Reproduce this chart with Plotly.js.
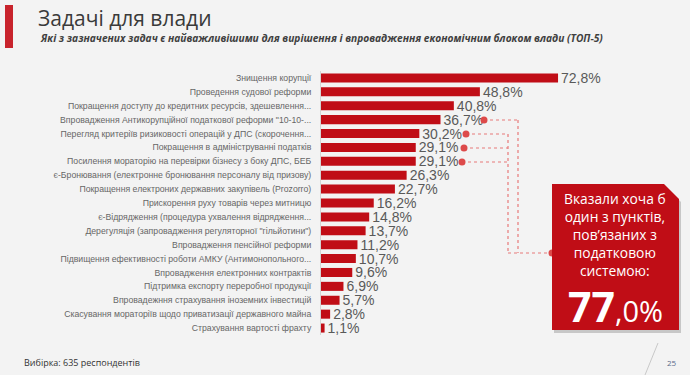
<!DOCTYPE html>
<html><head><meta charset="utf-8">
<script src="https://cdn.plot.ly/plotly-3.0.1.min.js"></script>
<style>html,body{margin:0;padding:0;background:#f3f3f3;}#chart{width:690px;height:375px;}</style>
</head><body><div id="chart"></div>
<script>
const categories = [
  "Знищення корупції",
  "Проведення судової реформи",
  "Покращення доступу до кредитних ресурсів, здешевлення...",
  "Впровадження Антикорупційної податкової реформи \"10-10-...",
  "Перегляд критеріїв ризиковості операцій у ДПС (скорочення...",
  "Покращення в адмініструванні податків",
  "Посилення мораторію на перевірки бізнесу з боку ДПС, БЕБ",
  "є-Бронювання (електронне бронювання персоналу від призову)",
  "Покращення електроних державних закупівель (Prozorro)",
  "Прискорення руху товарів через митницю",
  "є-Відрядження (процедура ухвалення відрядження...",
  "Дерегуляція (запровадження регуляторної \"гільйотини\")",
  "Впровадження пенсійної реформи",
  "Підвищення ефективності роботи АМКУ (Антимонопольного...",
  "Впровадження електронних контрактів",
  "Підтримка експорту переробної продукції",
  "Впровадежння страхування іноземних інвестицій",
  "Скасування мораторіїв щодо приватизації державного майна",
  "Страхування вартості фрахту"
];
const values = [72.8, 48.8, 40.8, 36.7, 30.2, 29.1, 29.1, 26.3, 22.7, 16.2, 14.8, 13.7, 11.2, 10.7, 9.6, 6.9, 5.7, 2.8, 1.1];
const labels = values.map(v => v.toFixed(1).replace('.', ',') + '%');
const titleText = "Задачі для влади";
const subtitleText = "Які з зазначених задач є найважливішими для вирішення і впровадження економічним блоком влади (ТОП-5)";
const sampleText = "Вибірка: 635 респондентів";
const pageNum = "25";
const boxLines = ["Вказали хоча б", "один з пунктів,", "пов’язаних з", "податковою", "системою:"];
const boxBig = "77";
const boxSmall = ",0%";

const W = 690, H = 375, ML = 321, MR = 0, MT = 71, MB = 40;
const PW = W - ML - MR, PH = H - MT - MB;
const X = px => (px - ML) / PW;
const Y = py => (H - MB - py) / PH;

const red = '#c00d16';
const lineRed = '#e87a7a';

const shapes = [];
shapes.push({type:'rect', xref:'paper', yref:'paper', x0:X(5), x1:X(13), y0:Y(5), y1:Y(48), fillcolor:'#c8232c', line:{width:0}, layer:'above'});
shapes.push({type:'line', xref:'paper', yref:'paper', x0:X(658), y0:Y(343), x1:X(645), y1:Y(375), line:{color:'#c8c8c8', width:1}});
const dl = {color: lineRed, width: 1.2, dash: 'dot'};
const seg = (x0,y0,x1,y1) => shapes.push({type:'line', xref:'paper', yref:'paper', x0:X(x0), y0:Y(y0), x1:X(x1), y1:Y(y1), line:dl});
seg(484,120,518,120); seg(518,120,518,253);
seg(466,134,508,134); seg(464,148,508,148); seg(462,162,508,162); seg(508,134,508,253);
seg(508,253,552,253);
const dot = (x,y) => shapes.push({type:'circle', xref:'paper', yref:'paper', x0:X(x-3.5), x1:X(x+3.5), y0:Y(y-3.5), y1:Y(y+3.5), fillcolor:'#dd4a4a', line:{width:0}});
dot(484,120); dot(466,134); dot(464,148); dot(462,162); dot(552,253);
const boxPath = (dx,dy) => {
  const p = (x,y) => X(x+dx).toFixed(5) + ',' + Y(y+dy).toFixed(5);
  return 'M' + p(552,184) + ' L' + p(664,184) + ' L' + p(679,199) + ' L' + p(679,330) + ' L' + p(552,330) + ' Z';
};
shapes.push({type:'path', xref:'paper', yref:'paper', path: boxPath(2,3), fillcolor:'rgba(0,0,0,0.18)', line:{width:0}, layer:'above'});
shapes.push({type:'path', xref:'paper', yref:'paper', path: boxPath(0,0), fillcolor:red, line:{width:0}, layer:'above'});

const annotations = [];
annotations.push({xref:'paper', yref:'paper', x:X(38), y:Y(38), xanchor:'left', yanchor:'middle', showarrow:false,
  text:'<b><i>'+subtitleText+'</i></b>', font:{family:'Open Sans', size:10.2, color:'#404040'}});
annotations.push({xref:'paper', yref:'paper', x:X(22), y:Y(362), xanchor:'left', yanchor:'middle', showarrow:false,
  text:sampleText, font:{family:'Open Sans', size:9, color:'#333'}});
annotations.push({xref:'paper', yref:'paper', x:X(672), y:Y(362), xanchor:'center', yanchor:'middle', showarrow:false,
  text:pageNum, font:{family:'Open Sans', size:8, color:'#5a6a8a'}});
annotations.push({xref:'paper', yref:'paper', x:X(615), y:Y(187), xanchor:'center', yanchor:'top', showarrow:false,
  text:boxLines.join('<br>'), font:{family:'Open Sans', size:13.8, color:'#fff'}});
annotations.push({xref:'paper', yref:'paper', x:X(615), y:Y(306), xanchor:'center', yanchor:'middle', showarrow:false,
  text:'<b>'+boxBig+'</b><span style="font-size:29px">'+boxSmall+'</span>', font:{family:'Open Sans', size:41, color:'#fff'}});

const trace = {
  type:'bar', orientation:'h', x: values, y: categories,
  marker:{color: red}, text: labels, textposition:'outside', constraintext:'none', cliponaxis:false,
  textfont:{family:'Liberation Sans, Arial', size:14, color:'#595959'}, hoverinfo:'none'
};
const layout = {
  width: W, height: H, margin:{l:ML, r:MR, t:MT, b:MB, pad:0},
  paper_bgcolor:'#f3f3f3', plot_bgcolor:'rgba(0,0,0,0)',
  bargap: 0.35, showlegend:false,
  title:{text:titleText, x:38/W, xanchor:'left', xref:'container', y:1-19/H, yanchor:'middle', yref:'container',
    font:{family:'Open Sans', size:21, color:'#3a3a3a'}},
  xaxis:{range:[0, PW/3.256], visible:false, fixedrange:true},
  yaxis:{autorange:'reversed', showline:true, linecolor:'#d4d4d4', linewidth:1, ticks:'', showgrid:false,
    ticklabelstandoff:7, tickfont:{family:'Liberation Sans, Arial', size:8.7, color:'#666'}, fixedrange:true},
  shapes, annotations
};
Plotly.newPlot('chart', [trace], layout, {displayModeBar:false, staticPlot:true});
</script></body></html>
